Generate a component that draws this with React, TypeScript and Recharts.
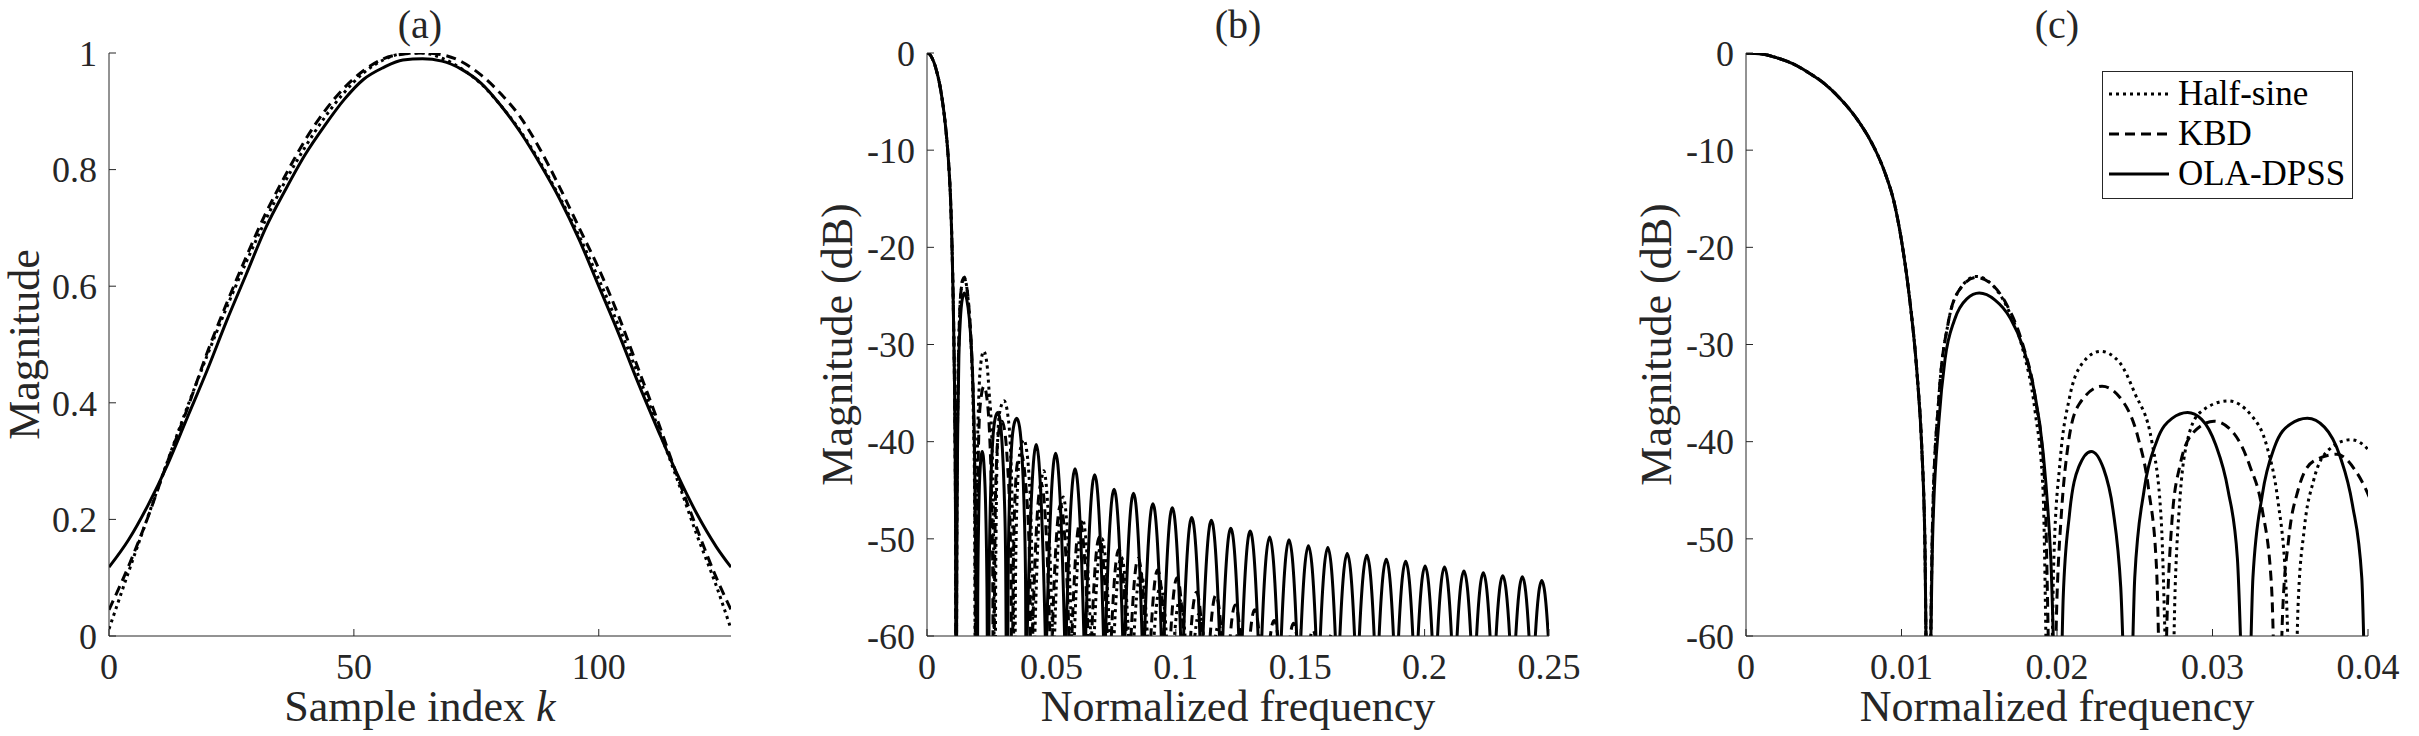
import { Legend, Line, LineChart, XAxis, YAxis } from "recharts";

const INK = "#000";
const AXIS_INK = "#262626";
const FONT = '"Liberation Serif", "Times New Roman", serif';

// (a) window shapes, read every 4th sample
const SAMPLE_K = [0, 4, 8, 12, 16, 20, 24, 28, 32, 36, 40, 44, 48, 52, 56, 60, 64, 68, 72, 76, 80, 84, 88, 92, 96, 100, 104, 108, 112, 116, 120, 124, 127];
const HALF_SINE_WIN = [0.012, 0.11, 0.206, 0.301, 0.393, 0.48, 0.563, 0.641, 0.714, 0.78, 0.838, 0.889, 0.932, 0.966, 0.988, 0.999, 1.0, 0.991, 0.973, 0.947, 0.91, 0.866, 0.813, 0.753, 0.686, 0.612, 0.533, 0.449, 0.36, 0.269, 0.174, 0.086, 0.012];
const KBD_WIN = [0.045, 0.12, 0.205, 0.3, 0.39, 0.485, 0.57, 0.65, 0.725, 0.79, 0.85, 0.9, 0.94, 0.97, 0.99, 0.998, 1.0, 0.997, 0.985, 0.962, 0.93, 0.89, 0.835, 0.77, 0.7, 0.63, 0.55, 0.46, 0.37, 0.275, 0.185, 0.1, 0.045];
const OLA_DPSS_WIN = [0.118, 0.165, 0.225, 0.295, 0.375, 0.455, 0.54, 0.62, 0.7, 0.765, 0.825, 0.875, 0.92, 0.955, 0.975, 0.988, 0.99, 0.986, 0.972, 0.948, 0.91, 0.864, 0.81, 0.75, 0.68, 0.6, 0.52, 0.435, 0.355, 0.278, 0.21, 0.153, 0.118];

// (b)/(c) magnitude responses, [normalized frequency, dB]; -75 marks a null below the -60 floor
const MAIN_LOBE = [
  [0, 0], [0.001, -0.1], [0.002, -0.5], [0.003, -1.1], [0.004, -2.0], [0.005, -3.1], [0.006, -4.6], [0.007, -6.5],
  [0.008, -9.0], [0.0085, -10.6], [0.009, -12.6], [0.0095, -15.2], [0.01, -19.3], [0.0105, -25], [0.011, -33],
  [0.0113, -40.5], [0.0115, -50], [0.0117, -75],
];

const HALF_SINE_DB = [
  ...MAIN_LOBE,
  [0.012, -48], [0.0124, -35.5], [0.013, -27.8], [0.0138, -24.2], [0.0148, -23.0], [0.0158, -23.8], [0.0168, -26.2], [0.0178, -30.5], [0.0186, -37], [0.0191, -45], [0.0195, -75],
  [0.0198, -52], [0.0202, -42], [0.0208, -35.5], [0.0216, -32], [0.0228, -30.7], [0.024, -31.8], [0.025, -35], [0.0261, -40], [0.0267, -48], [0.0273, -75],
  [0.0276, -55], [0.0279, -46], [0.0283, -40.5], [0.0292, -37], [0.031, -35.8], [0.0325, -37.3], [0.0335, -40.5], [0.0342, -46], [0.0347, -54], [0.0352, -75],
  [0.0355, -57], [0.0359, -49], [0.0365, -44], [0.0375, -40.8], [0.0389, -39.8], [0.04, -40.8], [0.041, -43.5], [0.0418, -48], [0.0424, -56], [0.043, -75],
  [0.04335, -60], [0.0469, -43.0], [0.05045, -60], [0.0508, -75],
  [0.05128, -60], [0.0547, -45.7], [0.05812, -60], [0.0586, -75],
  [0.05923, -60], [0.0625, -48.0], [0.06577, -60], [0.0664, -75],
  [0.0672, -60], [0.0703, -50.0], [0.0734, -60], [0.0742, -75],
  [0.0752, -60], [0.0781, -51.9], [0.081, -60], [0.082, -75],
  [0.0832, -60], [0.0859, -53.5], [0.0886, -60], [0.0898, -75],
  [0.09127, -60], [0.0938, -54.9], [0.09623, -60], [0.0977, -75],
  [0.09948, -60], [0.1016, -56.3], [0.10372, -60], [0.1055, -75],
  [0.10767, -60], [0.1094, -57.7], [0.11113, -60], [0.1133, -75],
  [0.11598, -60], [0.1172, -58.9], [0.11842, -60], [0.1211, -75],
  [0.1245, -60], [0.125, -59.8], [0.1255, -60], [0.1289, -75],
];

const KBD_DB = [
  ...MAIN_LOBE,
  [0.012, -48], [0.0124, -35.5], [0.013, -27.8], [0.0138, -24.2], [0.0148, -23.1], [0.0158, -23.8], [0.0168, -26.0], [0.0178, -30], [0.0186, -35.5], [0.0192, -44], [0.0197, -75],
  [0.02, -56], [0.0203, -47], [0.0207, -40.5], [0.0214, -36.2], [0.0229, -34.3], [0.0243, -36], [0.0252, -39.5], [0.0259, -45], [0.0264, -53], [0.0268, -75],
  [0.0271, -57], [0.0274, -48], [0.0279, -42.5], [0.0288, -39], [0.0301, -37.9], [0.0314, -39.2], [0.0324, -42.5], [0.0332, -47], [0.0338, -55], [0.0342, -75],
  [0.0345, -58], [0.0349, -50], [0.0355, -45], [0.0365, -42], [0.038, -41.3], [0.0392, -43], [0.04, -45.4], [0.0408, -49], [0.0414, -55], [0.042, -75],
  [0.0424, -60], [0.0459, -44.3], [0.0494, -60], [0.0498, -75],
  [0.05033, -60], [0.0537, -46.5], [0.05707, -60], [0.0576, -75],
  [0.05825, -60], [0.0615, -48.3], [0.06475, -60], [0.0654, -75],
  [0.06618, -60], [0.0693, -49.8], [0.07242, -60], [0.0732, -75],
  [0.0741, -60], [0.0771, -51.1], [0.0801, -60], [0.081, -75],
  [0.08202, -60], [0.0849, -52.0], [0.08778, -60], [0.0888, -75],
  [0.08998, -60], [0.0927, -53.2], [0.09542, -60], [0.0966, -75],
  [0.0979, -60], [0.1005, -54.0], [0.1031, -60], [0.1044, -75],
  [0.10595, -60], [0.1083, -55.5], [0.11065, -60], [0.1122, -75],
  [0.1138, -60], [0.1161, -55.8], [0.1184, -60], [0.12, -75],
  [0.1219, -60], [0.1239, -56.8], [0.1259, -60], [0.1278, -75],
  [0.12985, -60], [0.1317, -57.3], [0.13355, -60], [0.1356, -75],
  [0.138, -60], [0.1395, -58.4], [0.141, -60], [0.1434, -75],
  [0.146, -60], [0.1473, -58.7], [0.1486, -60], [0.1512, -75],
  [0.1542, -60], [0.1551, -59.4], [0.156, -60], [0.159, -75],
  [0.1622, -60], [0.1629, -59.7], [0.1636, -60], [0.1668, -75],
];

const OLA_DPSS_DB = [
  ...MAIN_LOBE,
  [0.012, -50], [0.0124, -38], [0.0128, -31.5], [0.0134, -27.5], [0.0142, -25.3], [0.015, -24.7], [0.016, -25.4], [0.017, -27.3], [0.0178, -30.2], [0.0185, -34.5], [0.0191, -41], [0.0196, -52], [0.0201, -75],
  [0.0204, -56], [0.0208, -47.5], [0.0214, -42.6], [0.0222, -41.0], [0.023, -42.8], [0.0236, -47], [0.0241, -55], [0.0246, -75],
  [0.025, -54], [0.0256, -45], [0.0264, -40], [0.0274, -37.6], [0.0284, -37.0], [0.0293, -37.7], [0.0302, -40.3], [0.031, -45], [0.0316, -52], [0.0322, -75],
  [0.0326, -54], [0.0332, -45.5], [0.034, -40.5], [0.035, -38.2], [0.0361, -37.6], [0.0372, -38.5], [0.0382, -41.5], [0.039, -46.5], [0.0396, -54], [0.04, -75],
  [0.04026, -60], [0.0439, -40.3], [0.04754, -60], [0.0478, -75],
  [0.0481, -60], [0.0517, -41.2], [0.0553, -60], [0.0556, -75],
  [0.05594, -60], [0.0595, -42.8], [0.06306, -60], [0.0634, -75],
  [0.06377, -60], [0.0674, -43.4], [0.07093, -60], [0.0713, -75],
  [0.07175, -60], [0.0752, -44.9], [0.07865, -60], [0.0791, -75],
  [0.07957, -60], [0.083, -45.3], [0.08643, -60], [0.0869, -75],
  [0.08744, -60], [0.0908, -46.4], [0.09416, -60], [0.0947, -75],
  [0.09526, -60], [0.0986, -46.8], [0.10194, -60], [0.1025, -75],
  [0.10312, -60], [0.1064, -47.8], [0.10968, -60], [0.1103, -75],
  [0.11094, -60], [0.1143, -48.1], [0.11756, -60], [0.1182, -75],
  [0.1189, -60], [0.1221, -48.9], [0.1253, -60], [0.126, -75],
  [0.12673, -60], [0.1299, -49.2], [0.13307, -60], [0.1338, -75],
  [0.13458, -60], [0.1377, -49.8], [0.14082, -60], [0.1416, -75],
  [0.14241, -60], [0.1455, -50.1], [0.14859, -60], [0.1494, -75],
  [0.15027, -60], [0.1533, -50.7], [0.15633, -60], [0.1572, -75],
  [0.15809, -60], [0.1611, -50.9], [0.16411, -60], [0.165, -75],
  [0.16595, -60], [0.1689, -51.5], [0.17185, -60], [0.1728, -75],
  [0.17377, -60], [0.1768, -51.7], [0.17973, -60], [0.1807, -75],
  [0.18172, -60], [0.1846, -52.1], [0.18748, -60], [0.1885, -75],
  [0.18954, -60], [0.1924, -52.3], [0.19526, -60], [0.1963, -75],
  [0.1974, -60], [0.2002, -52.8], [0.203, -60], [0.2041, -75],
  [0.20521, -60], [0.208, -52.9], [0.21079, -60], [0.2119, -75],
  [0.21306, -60], [0.2158, -53.3], [0.21854, -60], [0.2197, -75],
  [0.22089, -60], [0.2236, -53.5], [0.22631, -60], [0.2275, -75],
  [0.22873, -60], [0.2314, -53.8], [0.23417, -60], [0.2354, -75],
  [0.23664, -60], [0.2393, -53.9], [0.24196, -60], [0.2432, -75],
  [0.2445, -60], [0.2471, -54.3], [0.2497, -60], [0.251, -75],
];

const SERIES = [
  { name: "Half-sine", dash: "3 4", win: HALF_SINE_WIN, db: HALF_SINE_DB },
  { name: "KBD", dash: "10 6", win: KBD_WIN, db: KBD_DB },
  { name: "OLA-DPSS", dash: undefined, win: OLA_DPSS_WIN, db: OLA_DPSS_DB },
];

const DB_TICKS = [-60, -50, -40, -30, -20, -10, 0];
const TICK = { fill: AXIS_INK, fontSize: 36, fontFamily: FONT };
const TITLE = { fill: AXIS_INK, fontSize: 44, fontFamily: FONT };
const PANEL_TITLE = { fill: AXIS_INK, fontSize: 40, fontFamily: FONT };

const rowsOfWin = (vals: number[]) => SAMPLE_K.map((k, i) => ({ x: k, y: vals[i] }));
const rowsOfDb = (pts: number[][]) => pts.map(([f, db]) => ({ x: f, y: db }));

function xTitle(text: React.ReactNode) {
  return {
    content: ({ viewBox }: any) => (
      <text x={viewBox.x + viewBox.width / 2} y={viewBox.y + 85} textAnchor="middle" style={TITLE}>
        {text}
      </text>
    ),
  };
}

// gap = distance from the plot's left edge back to the centre of the rotated title
function yTitle(text: string, gap: number) {
  return {
    content: ({ viewBox }: any) => {
      const cx = viewBox.x + viewBox.width - gap;
      const cy = viewBox.y + viewBox.height / 2;
      return (
        <text x={cx} y={cy} transform={`rotate(-90 ${cx} ${cy})`} textAnchor="middle" dominantBaseline="central" style={TITLE}>
          {text}
        </text>
      );
    },
  };
}

function LegendBox() {
  return (
    <div style={{ border: `1px solid ${AXIS_INK}`, background: "#fff", width: 251, height: 128, boxSizing: "border-box", paddingTop: 2, paddingLeft: 6 }}>
      {SERIES.map((s) => (
        <div key={s.name} style={{ display: "flex", alignItems: "center", height: 40, fontSize: 35, fontFamily: FONT, color: INK, whiteSpace: "nowrap" }}>
          <svg width={60} height={10}>
            <line x1={0} x2={60} y1={5} y2={5} stroke={INK} strokeWidth={3} strokeDasharray={s.dash} />
          </svg>
          <span style={{ marginLeft: 9 }}>{s.name}</span>
        </div>
      ))}
    </div>
  );
}

const PLOT_TOP = 53;
const PLOT_BOTTOM_GAP = 100;

type FrameProps = {
  left: number;
  width: number;
  plotLeft: number;
  plotRight: number;
  title: string;
  children?: React.ReactNode;
};

function Frame({ left, width, plotLeft, plotRight, title, children }: FrameProps) {
  const cx = plotLeft + (width - plotLeft - plotRight) / 2;
  return (
    <div style={{ position: "absolute", left, top: 0 }}>
      <LineChart width={width} height={736} margin={{ top: PLOT_TOP, right: plotRight, bottom: 0, left: 0 }}>
        <text x={cx} y={38} textAnchor="middle" style={PANEL_TITLE}>
          {title}
        </text>
        {children}
      </LineChart>
    </div>
  );
}

const xAxisProps = {
  type: "number" as const,
  dataKey: "x",
  allowDataOverflow: true,
  interval: 0,
  height: PLOT_BOTTOM_GAP,
  stroke: AXIS_INK,
  tickSize: -7,
  tickMargin: 24,
  tick: TICK,
};

const yAxisProps = {
  type: "number" as const,
  dataKey: "y",
  allowDataOverflow: true,
  interval: 0,
  stroke: AXIS_INK,
  tickSize: -7,
  tickMargin: 19,
  tick: TICK,
};

function WindowPanel() {
  return (
    <Frame left={0} width={800} plotLeft={109} plotRight={69} title="(a)">
      <XAxis
        {...xAxisProps}
        domain={[0, 127]}
        ticks={[0, 50, 100]}
        label={xTitle(
          <>
            Sample index <tspan fontStyle="italic">k</tspan>
          </>
        )}
      />
      <YAxis {...yAxisProps} width={109} domain={[0, 1]} ticks={[0, 0.2, 0.4, 0.6, 0.8, 1]} label={yTitle("Magnitude", 85)} />
      {SERIES.map((s) => (
        <Line
          key={s.name}
          data={rowsOfWin(s.win)}
          dataKey="y"
          type="monotone"
          stroke={INK}
          strokeWidth={3}
          strokeDasharray={s.dash}
          dot={false}
          isAnimationActive={false}
        />
      ))}
    </Frame>
  );
}

type SpectrumProps = {
  left: number;
  width: number;
  plotLeft: number;
  title: string;
  maxF: number;
  fTicks: number[];
  legend?: boolean;
};

function SpectrumPanel({ left, width, plotLeft, title, maxF, fTicks, legend }: SpectrumProps) {
  return (
    <Frame left={left} width={width} plotLeft={plotLeft} plotRight={51} title={title}>
      <XAxis {...xAxisProps} domain={[0, maxF]} ticks={fTicks} label={xTitle("Normalized frequency")} />
      <YAxis {...yAxisProps} width={plotLeft} domain={[-60, 0]} ticks={DB_TICKS} label={yTitle("Magnitude (dB)", 90)} />
      {SERIES.map((s) => (
        <Line
          key={s.name}
          name={s.name}
          data={rowsOfDb(s.db)}
          dataKey="y"
          type="monotone"
          stroke={INK}
          strokeWidth={3}
          strokeDasharray={s.dash}
          dot={false}
          isAnimationActive={false}
        />
      ))}
      {legend && (
        <Legend
          layout="horizontal"
          align="center"
          verticalAlign="middle"
          content={() => <LegendBox />}
          wrapperStyle={{ left: 502, top: 71, width: 251, height: 128 }}
        />
      )}
    </Frame>
  );
}

export default function App() {
  return (
    <div style={{ position: "absolute", left: 0, top: 0, width: 2419, height: 736, background: "#fff", fontFamily: FONT }}>
      <WindowPanel />
      <SpectrumPanel left={800} width={800} plotLeft={127} title="(b)" maxF={0.25} fTicks={[0, 0.05, 0.1, 0.15, 0.2, 0.25]} />
      <SpectrumPanel left={1600} width={819} plotLeft={146} title="(c)" maxF={0.04} fTicks={[0, 0.01, 0.02, 0.03, 0.04]} legend />
    </div>
  );
}
